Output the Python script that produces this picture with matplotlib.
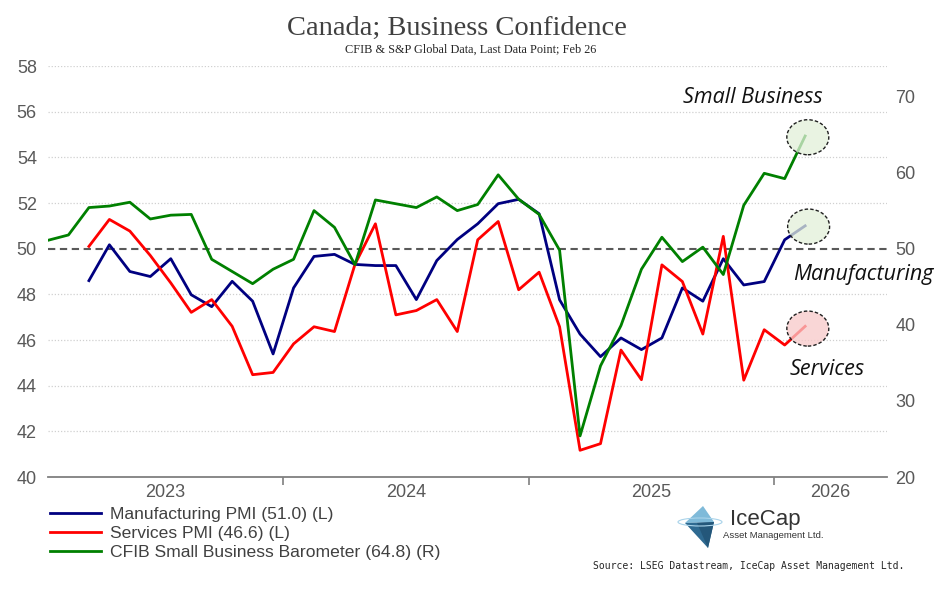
import matplotlib
matplotlib.use("Agg")
import matplotlib.pyplot as plt
from matplotlib.patches import Ellipse, Polygon
import numpy as np

# ---------------- data (monthly, Jan 2023 .. Feb 2026) ----------------
months = [f"{m} {y}" for y in (2023, 2024, 2025) for m in
          ["Jan", "Feb", "Mar", "Apr", "May", "Jun", "Jul", "Aug", "Sep", "Oct", "Nov", "Dec"]] + ["Jan 2026", "Feb 2026"]

small_business = [51.1, 51.8, 55.4, 55.6, 56.1, 53.9, 54.4, 54.5, 48.6, 47.0, 45.4, 47.3,
                  48.6, 55.0, 52.8, 47.9, 56.4, 55.9, 55.4, 56.8, 55.0, 55.8, 59.7, 56.5,
                  54.5, 49.8, 25.4, 34.6, 39.9, 47.3, 51.5, 48.3, 50.2, 46.6, 55.7, 59.9,
                  59.2, 64.8]

# Manufacturing and services start in Mar 2023
manufacturing = [48.6, 50.17, 49.0, 48.78, 49.56, 47.98, 47.46, 48.57, 47.7, 45.39,
                 48.28, 49.66, 49.75, 49.31, 49.26, 49.26, 47.77, 49.48, 50.4, 51.09,
                 51.97, 52.16, 51.53, 47.76, 46.26, 45.27, 46.09, 45.58, 46.09, 48.28,
                 47.7, 49.56, 48.41, 48.56, 50.39, 51.0]

services = [50.1, 51.28, 50.77, 49.7, 48.5, 47.21, 47.77, 46.6, 44.48, 44.58,
            45.83, 46.58, 46.37, 49.31, 51.09, 47.1, 47.29, 47.77, 46.37, 50.39,
            51.19, 48.2, 48.97, 46.58, 41.17, 41.46, 45.56, 44.26, 49.29, 48.56,
            46.26, 50.54, 44.24, 46.45, 45.78, 46.6]

year_labels = ["2023", "2024", "2025", "2026"]
left_ticks = [40, 42, 44, 46, 48, 50, 52, 54, 56, 58]
right_ticks = [20, 30, 40, 50, 60, 70]

legend_labels = ["Manufacturing PMI (51.0) (L)", "Services PMI (46.6) (L)",
                 "CFIB Small Business Barometer (64.8) (R)"]

# ---------------- figure ----------------
W, H = 949, 593
fig = plt.figure(figsize=(W / 100, H / 100), dpi=100)
fig.patch.set_facecolor("white")

ax = fig.add_axes([48 / W, 1 - 477 / H, (887 - 48) / W, (477 - 66) / H])
ax2 = ax.twinx()

x_all = np.arange(len(small_business))
x_pmi = np.arange(len(small_business) - len(manufacturing), len(small_business))

ax.set_xlim(0, 41)
ax.set_ylim(40, 58)
ax2.set_ylim(20, 74)

# grid lines
for v in left_ticks:
    if v in (40, 50):
        continue
    ax.axhline(v, color="#d0d0d0", lw=0.9, ls=(0, (1, 1.5)), zorder=0.5)
ax.axhline(50, color="#595959", lw=1.5, ls=(0, (3.5, 2.2)), zorder=0.6)

# series
grey = "#595959"
l_m, = ax.plot(x_pmi, manufacturing, color="#000080", lw=2.0, zorder=3)
l_s, = ax.plot(x_pmi, services, color="#ff0000", lw=2.0, zorder=3)
l_g, = ax2.plot(x_all, small_business, color="#008000", lw=2.0, zorder=3)

# highlight circles (on right axis units)
circ_specs = [(37.13, 64.64, "#e2f0d9"), (37.17, 52.9, "#e2f0d9"), (37.13, 39.5, "#f8c9c9")]
for cx, cy, fc in circ_specs:
    e = Ellipse((cx, cy), width=2.05, height=4.6, facecolor=fc, alpha=0.75,
                edgecolor="none", zorder=5)
    ax2.add_patch(e)
    e2 = Ellipse((cx, cy), width=2.05, height=4.6, facecolor="none",
                 edgecolor="#202020", lw=1.0, ls=(0, (2.5, 1.5)), zorder=6)
    ax2.add_patch(e2)

# annotations
ann_font = dict(family=["Open Sans", "DejaVu Sans"], style="italic", fontsize=15.5, color="#111111")
ax.text(34.44, 56.64, "Small Business", ha="center", va="center", clip_on=False, **ann_font)
ax.text(36.4, 48.87, "Manufacturing", ha="left", va="center", clip_on=False, zorder=7, **ann_font)
ax.text(36.25, 44.7, "Services", ha="left", va="center", clip_on=False, zorder=7, **ann_font)

# spines
for a in (ax, ax2):
    for s in ("top", "left", "right", "bottom"):
        a.spines[s].set_visible(False)
ax.spines["bottom"].set_visible(True)
ax.spines["bottom"].set_color("#7f7f7f")
ax.spines["bottom"].set_linewidth(1.3)

tick_font = ["Liberation Sans Narrow", "Liberation Sans", "DejaVu Sans"]

# y ticks
ax.set_yticks(left_ticks)
ax.set_yticklabels([str(v) for v in left_ticks], family=tick_font, fontsize=13, color=grey)
ax.tick_params(axis="y", length=0, pad=8)
ax2.set_yticks(right_ticks)
ax2.set_yticklabels([str(v) for v in right_ticks], family=tick_font, fontsize=13, color=grey)
ax2.tick_params(axis="y", length=0, pad=6)

# x ticks: separators at year boundaries, labels centred in each year
ax.set_xticks([11.5, 23.5, 35.5])
ax.set_xticklabels([])
ax.tick_params(axis="x", which="major", length=6, width=1.2, color="#7f7f7f", direction="out")
ax.set_xticks([5.75, 17.5, 29.5, 38.25], minor=True)
ax.set_xticklabels(year_labels, minor=True, family=tick_font, fontsize=13, color=grey)
ax.tick_params(axis="x", which="minor", length=0, pad=5)

# title
fig.text(457 / W, 1 - 28 / H, "Canada; Business Confidence", ha="center", va="center",
         family=["Liberation Serif", "DejaVu Serif"], fontsize=20.5, color="#404040")
fig.text(471 / W, 1 - 50 / H, "CFIB & S&P Global Data, Last Data Point; Feb 26", ha="center",
         va="center", family=["Liberation Serif", "DejaVu Serif"], fontsize=8.8, color="#262626")

# legend
leg = fig.legend([l_m, l_s, l_g], legend_labels, loc="upper left",
                 bbox_to_anchor=(50 / W, 1 - 507 / H), frameon=False,
                 prop=dict(family=tick_font, size=12.6), handlelength=2.9,
                 handletextpad=0.5, labelspacing=0.2, borderaxespad=0, borderpad=0)
for t in leg.get_texts():
    t.set_color("#404040")

# logo
lax = fig.add_axes([670 / W, 1 - 575 / H, 180 / W, 80 / H])
lax.set_xlim(670, 850)
lax.set_ylim(575, 495)
lax.axis("off")
lax.add_patch(Polygon([(703, 506), (685, 523), (714, 522)], closed=True,
                      facecolor="#7fbad9", edgecolor="none"))
lax.add_patch(Polygon([(685, 523), (714, 522), (708, 548)], closed=True,
                      facecolor="#2f6a91", edgecolor="none"))
lax.add_patch(Polygon([(697, 523), (714, 522), (708, 548)], closed=True,
                      facecolor="#24577a", edgecolor="none"))
lax.add_patch(Ellipse((700, 522), 44, 8, facecolor="none", edgecolor="#a9d3ea", lw=0.8))
lax.text(730, 520, "IceCap", family=["Liberation Sans", "DejaVu Sans"], fontsize=16,
         color="#333333", va="center", ha="left")
lax.text(723, 536, "Asset Management Ltd.", family=["Liberation Sans", "DejaVu Sans"],
         fontsize=6.8, color="#333333", va="center", ha="left")

fig.text(593 / W, 1 - 566 / H, "Source: LSEG Datastream, IceCap Asset Management Ltd.",
         family=["DejaVu Sans Mono"], fontsize=7, color="#262626", ha="left", va="center")

fig.savefig("out.png", dpi=100, facecolor="white")
